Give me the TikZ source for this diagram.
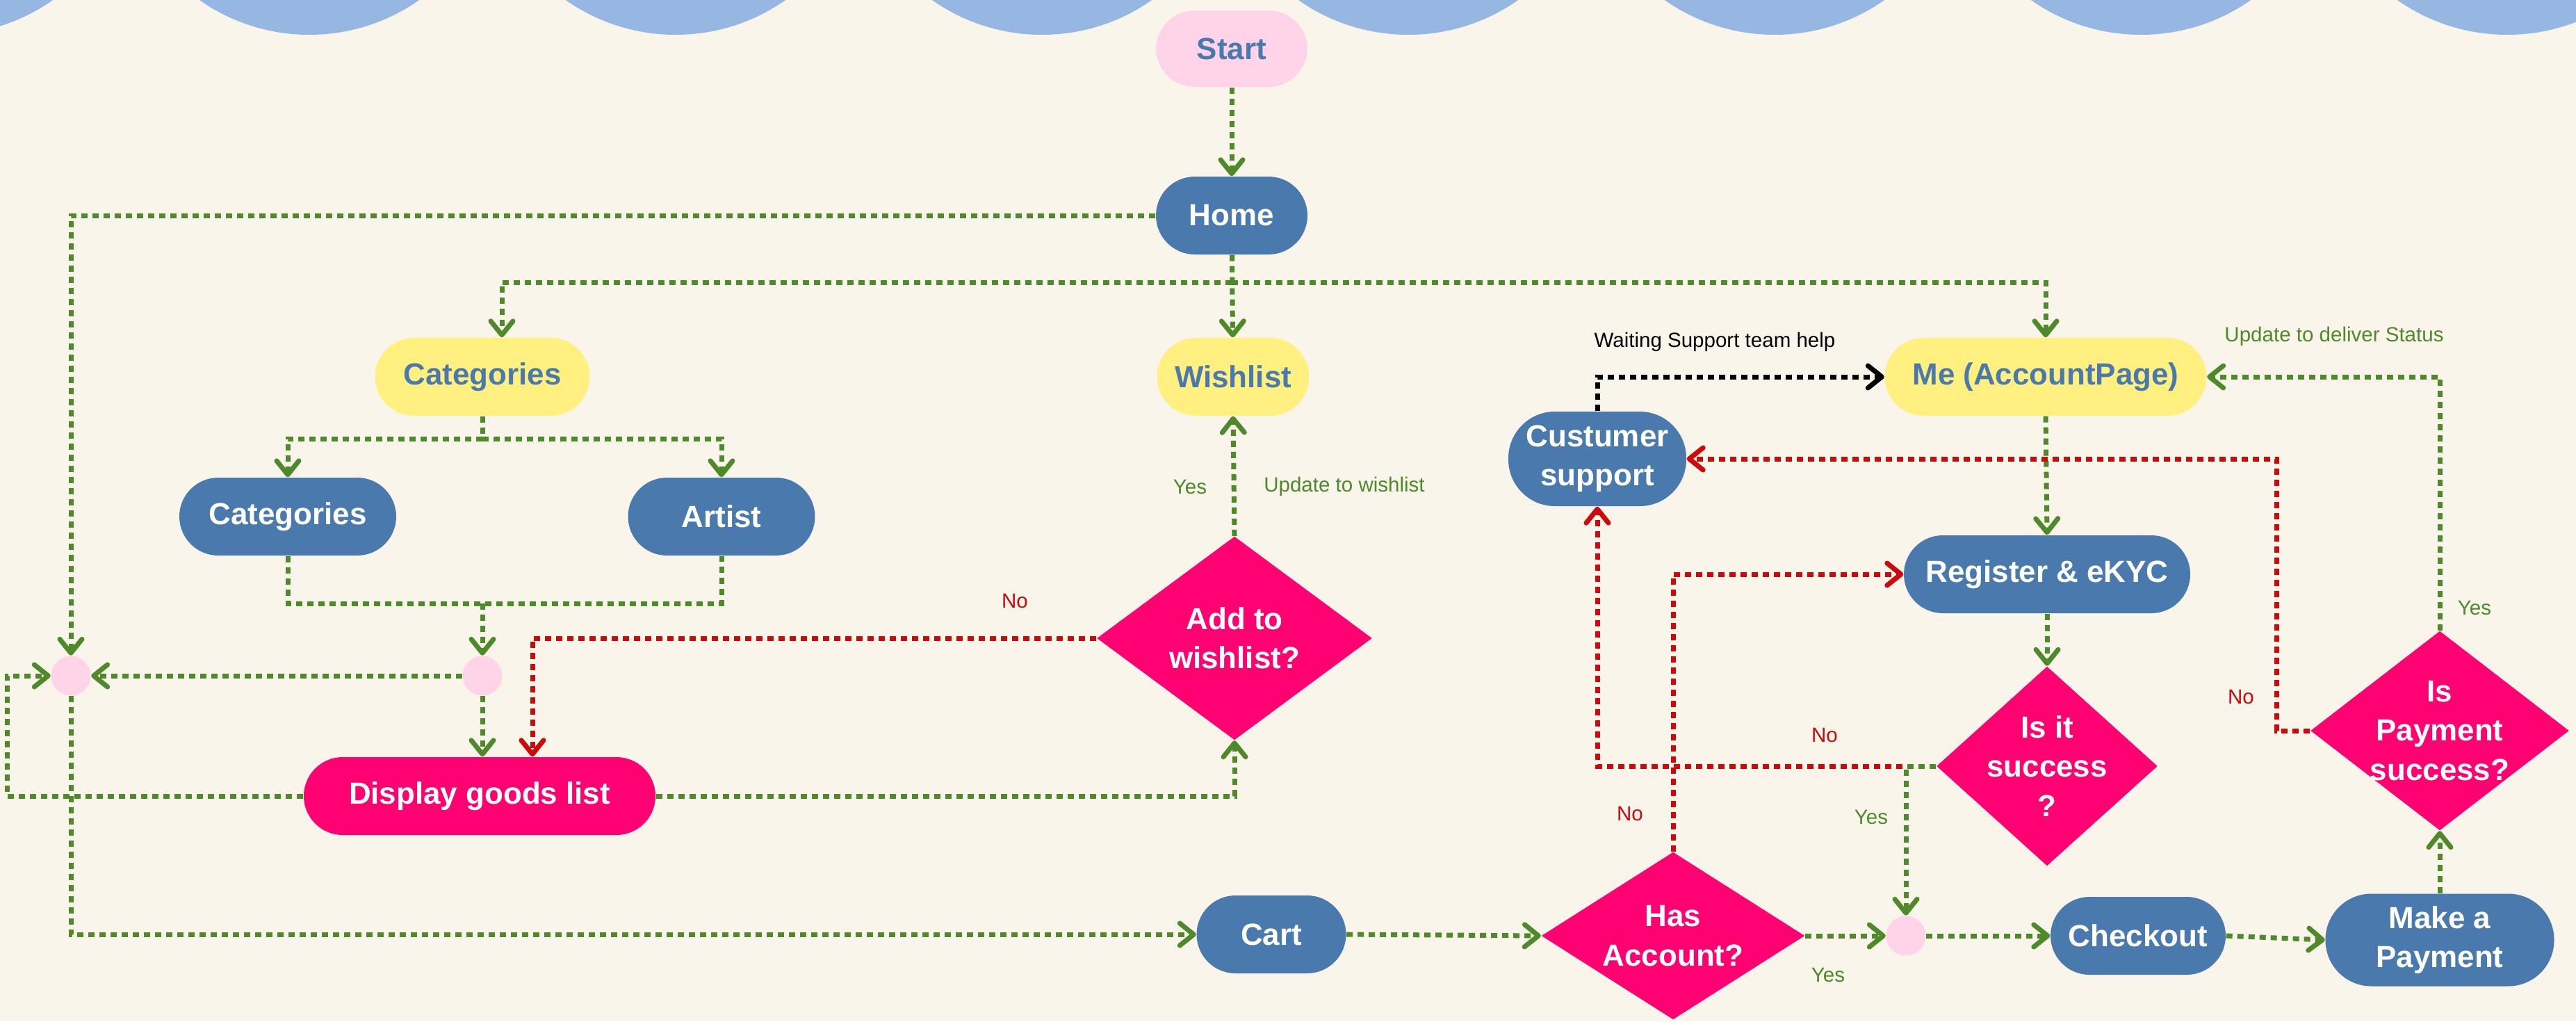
\documentclass[tikz,border=0pt]{standalone}
\usepackage{fontspec}
\setmainfont{Liberation Sans}
\usetikzlibrary{shapes.geometric,arrows.meta,calc}

\definecolor{bgcream}{HTML}{F9F5EB}
\definecolor{wave}{HTML}{95B7E1}
\definecolor{boxblue}{HTML}{4A79AE}
\definecolor{boxyellow}{HTML}{FFF080}
\definecolor{boxpink}{HTML}{FF0171}
\definecolor{dotpink}{HTML}{FFD4E9}
\definecolor{flowgreen}{HTML}{4E8A2A}
\definecolor{flowred}{HTML}{CC0A0A}

\begin{document}
\begin{tikzpicture}[
    base/.style={rectangle, rounded corners=0.56cm, minimum height=1.12cm,
        inner sep=0pt, align=center, font=\fontsize{12.5}{16}\selectfont\bfseries},
    bluebox/.style={base, fill=boxblue, text=white},
    yellowbox/.style={base, fill=boxyellow, text=boxblue},
    pinkbox/.style={base, fill=boxpink, text=white},
    startbox/.style={base, fill=dotpink, text=boxblue},
    decision/.style={diamond, fill=boxpink, text=white, inner sep=-0.6cm,
        align=center, font=\fontsize{12.5}{16}\selectfont\bfseries},
    joint/.style={circle, fill=dotpink, minimum size=0.57cm, inner sep=0pt},
    line/.style={line width=0.07cm, dash pattern=on 0.09cm off 0.07cm},
    tip/.style={-{Straight Barb[length=0.2cm,width=0.32cm,round]}},
    flowline/.style={line, draw=flowgreen},
    flow/.style={flowline, tip},
    noflow/.style={line, draw=flowred, tip},
    waitflow/.style={line, draw=black, tip},
    lbl/.style={font=\fontsize{8.4}{10}\selectfont, inner sep=0pt}
]
    \useasboundingbox (0,0) rectangle (37.06,-14.69);
    \fill[bgcream] (0,0) rectangle (37.06,-14.69);
    \foreach \sx in {-0.82,4.45,9.72,14.99,20.26,25.53,30.80,36.07}
        \fill[wave] (\sx,2.25) circle (2.75);

    \node[startbox, minimum width=2.18cm, minimum height=1.10cm] (start) at (17.72,-0.70) {Start};
    \node[bluebox, minimum width=2.18cm] (home) at (17.72,-3.10) {Home};
    \node[yellowbox, minimum width=3.09cm] (catY) at (6.94,-5.42) {Categories};
    \node[yellowbox, minimum width=2.19cm] (wish) at (17.74,-5.42) {Wishlist};
    \node[yellowbox, minimum width=4.63cm] (me) at (29.43,-5.42) {Me (AccountPage)};
    \node[bluebox, minimum width=3.12cm] (catB) at (4.14,-7.43) {Categories};
    \node[bluebox, minimum width=2.69cm] (artist) at (10.38,-7.43) {Artist};
    \node[bluebox, minimum width=2.56cm, minimum height=1.36cm, rounded corners=0.67cm] (cust) at (22.98,-6.60) {Custumer\\support};
    \node[bluebox, minimum width=4.12cm] (reg) at (29.45,-8.26) {Register \& eKYC};
    \node[decision, minimum width=3.96cm, minimum height=2.93cm] (wishQ) at (17.76,-9.18) {Add to\\wishlist?};
    \node[decision, minimum width=3.18cm, minimum height=2.87cm] (isok) at (29.45,-11.02) {Is it\\success\\?};
    \node[decision, minimum width=3.72cm, minimum height=2.87cm] (payQ) at (35.10,-10.51) {Is\\Payment\\success?};
    \node[joint] (dot1) at (1.02,-9.72) {};
    \node[joint] (dot2) at (6.94,-9.72) {};
    \node[pinkbox, minimum width=5.06cm] (display) at (6.90,-11.45) {Display goods list};
    \node[bluebox, minimum width=2.15cm] (cart) at (18.29,-13.44) {Cart};
    \node[decision, minimum width=3.79cm, minimum height=2.41cm] (has) at (24.07,-13.46) {Has\\Account?};
    \node[joint] (dot3) at (27.42,-13.46) {};
    \node[bluebox, minimum width=2.52cm] (checkout) at (30.76,-13.46) {Checkout};
    \node[bluebox, minimum width=3.29cm, minimum height=1.33cm, rounded corners=0.66cm] (pay) at (35.10,-13.52) {Make a\\Payment};

    \coordinate (hub) at (17.72,-4.06);
    \coordinate (split) at (6.94,-6.31);
    \coordinate (merge) at (6.94,-8.68);
    \coordinate (loop) at (0.10,-9.72);
    \coordinate (nobend) at (32.75,-10.51);

    \draw[flow] (start) -- (home);
    \draw[flow] (home.west) -| (dot1.north);
    \draw[flow] (home) -- (wish);
    \draw[flow] (hub) -| ($(catY.north)+(0.28,0)$);
    \draw[flow] (hub) -| (me.north);
    \draw[flowline] (catY.south) -- (split);
    \draw[flow] (split) -| (catB.north);
    \draw[flow] (split) -| (artist.north);
    \draw[flowline] (catB.south) |- (merge) -| (artist.south);
    \draw[flow] (merge) -- (dot2.north);
    \draw[flow] (dot2.south) -- (dot2 |- display.north);
    \draw[flow] (dot2.west) -- (dot1.east);
    \draw[flow] (display.west) -| (loop) -- (dot1.west);
    \draw[flow] (dot1.south) |- (cart.west);
    \draw[flow] (display.east) -| (wishQ.south);
    \draw[flow] (wishQ.north) -- (wish.south);
    \draw[noflow] (wishQ.west) -| ($(display.north)+(0.76,0)$);
    \draw[flow] (me.south) -- (reg.north);
    \draw[flow] (reg.south) -- (isok.north);
    \draw[noflow] (isok.west) -| (cust.south);
    \draw[flow] (isok.west) -| (dot3.north);
    \draw[noflow] (has.north) |- (reg.west);
    \draw[flow] (cart.east) -- (has.west);
    \draw[flow] (has.east) -- (dot3.west);
    \draw[flow] (dot3.east) -- (checkout.west);
    \draw[flow] (checkout.east) -- (pay.west);
    \draw[flow] (pay.north) -- (payQ.south);
    \draw[flow] (payQ.north) |- (me.east);
    \draw[noflow] (payQ.west) -- (nobend) |- (cust.east);
    \draw[waitflow] (cust.north) |- (me.west);

    \node[lbl, text=flowgreen] (yesWish) at (17.12,-7.00) {Yes};
    \node[lbl, text=flowgreen] (updWish) at (19.34,-7.00) {Update to wishlist};
    \node[lbl, text=flowred] (noWish) at (14.60,-8.64) {No};
    \node[lbl] (waitLbl) at (24.67,-4.92) {Waiting Support team help};
    \node[lbl, text=flowgreen] (updMe) at (33.58,-4.84) {Update to deliver Status};
    \node[lbl, text=flowgreen] (yesPay) at (35.60,-8.74) {Yes};
    \node[lbl, text=flowred] (noPay) at (32.24,-10.02) {No};
    \node[lbl, text=flowred] (noOk) at (26.25,-10.57) {No};
    \node[lbl, text=flowgreen] (yesOk) at (26.92,-11.75) {Yes};
    \node[lbl, text=flowred] (noHas) at (23.45,-11.70) {No};
    \node[lbl, text=flowgreen] (yesHas) at (26.30,-14.02) {Yes};
\end{tikzpicture}
\end{document}
